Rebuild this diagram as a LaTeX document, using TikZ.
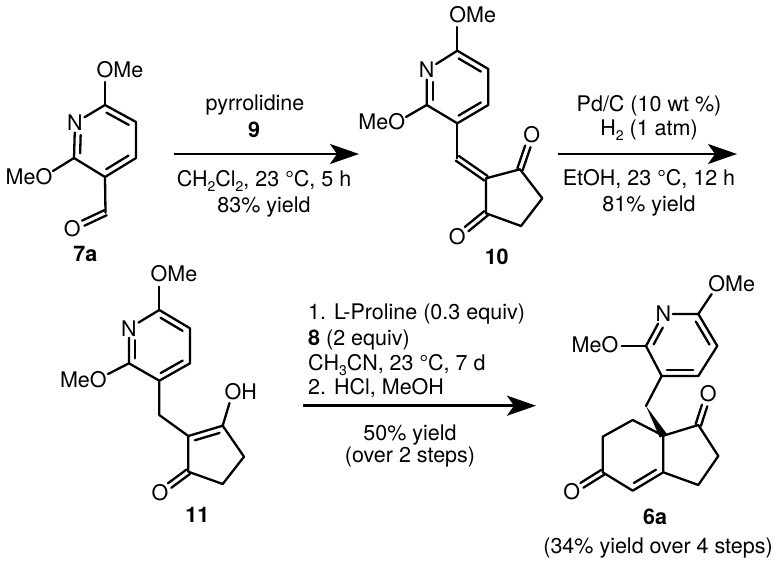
\documentclass[tikz,border=0pt]{standalone}
\usepackage{fontspec}
\setmainfont{TeX Gyre Heros}
\usetikzlibrary{calc,arrows.meta}
\newcommand\sbs[1]{\raisebox{-.24em}{\fontsize{14}{14}\selectfont #1}}
\newcommand\dbi[4][]{\draw[bondl,#1] ($(#2)!.14!(#3)!#4pt!90:(#3)$) -- ($(#2)!.86!(#3)!#4pt!-90:(#2)$);}
\newcommand\dbc[3][]{\draw[bondl,#1] ($(#2)!2.8pt!90:(#3)$) -- ($(#3)!2.8pt!-90:(#2)$);\draw[bondl,#1] ($(#2)!2.8pt!-90:(#3)$) -- ($(#3)!2.8pt!90:(#2)$);}
% pyridine: prefix, N, C2, C3, C4, C5, C6
\newcommand\pyr[7]{%
  \node[atomn] (#1N) at (#2) {N};
  \coordinate (#1c2) at (#3);\coordinate (#1c3) at (#4);\coordinate (#1c4) at (#5);
  \coordinate (#1c5) at (#6);\coordinate (#1c6) at (#7);
  \draw[bondl] (#1N) -- (#1c6) -- (#1c5) -- (#1c4) -- (#1c3) -- (#1c2) -- (#1N);
  \dbi{#1c6}{#1c5}{-6}\dbi{#1c4}{#1c3}{-6}
  \dbi[shorten >=7pt]{#1c2}{#1N}{-6}}
\tikzset{
  bondl/.style={line width=2.3pt,line cap=round,line join=round},
  atomn/.style={inner sep=1.5pt,font=\fontsize{21.5}{24}\selectfont},
  lab/.style={inner sep=0pt,anchor=base,font=\fontsize{21.5}{24}\selectfont},
  cmpd/.style={inner sep=0pt,anchor=base,font=\fontsize{21.5}{24}\selectfont\bfseries},
  rxn/.style={line width=2.5pt,-{Stealth[length=29pt,width=20pt,inset=7pt]}},
}
\begin{document}
\begin{tikzpicture}[x=1pt,y=-1pt]
\useasboundingbox (0,0) rectangle (779,568);
\fill[white] (0,0) rectangle (779,568);
% 7a
\pyr{a}{75,123}{74,158}{105,177}{136,158}{136,122}{105,105}
\node[lab] (aOMe) at (120,77) {OMe};
\node[lab] (aMeO) at (29,184) {MeO};
\coordinate (aOe) at (105,82);\coordinate (aMe) at (53,171);
\draw[bondl] (ac6) -- (aOe);
\draw[bondl] (ac2) -- (aMe);
\coordinate (aC) at (105.5,212.7);
\node[atomn] (aO) at (72.3,228.3) {O};
\draw[bondl] (ac3) -- (aC);
\dbc[shorten >=12pt]{aC}{aO}
\node[cmpd] (l7a) at (85.3,261) {7a};
% 10
\pyr{b}{426.7,70}{426.7,105}{457.3,123.3}{488.3,105}{488.3,69}{457.3,50.7}
\node[lab] (bOMe) at (472.7,22.7) {OMe};
\node[lab] (bMeO) at (381.7,129) {MeO};
\coordinate (bOe) at (457.3,27);\coordinate (bMe) at (406,117);
\draw[bondl] (bc6) -- (bOe);
\draw[bondl] (bc2) -- (bMe);
\coordinate (bCH) at (457.3,158.3);\coordinate (bq) at (486,178.3);
\coordinate (bk1) at (520,169.3);\coordinate (bm1) at (542.3,198.3);
\coordinate (bm2) at (521,226);\coordinate (bk2) at (486,213.3);
\node[atomn] (bO1) at (531.7,135) {O};
\node[atomn] (bO2) at (457.3,236.7) {O};
\draw[bondl] (bc3) -- (bCH);
\dbc{bCH}{bq}
\draw[bondl] (bq) -- (bk1) -- (bm1) -- (bm2) -- (bk2) -- cycle;
\dbc[shorten >=12pt]{bk1}{bO1}
\dbc[shorten >=12pt]{bk2}{bO2}
\node[cmpd] (l10) at (496.7,264) {10};
% 11
\pyr{c}{129,328.3}{129,363.3}{159.3,380.7}{190,363.3}{190,328.3}{159.3,310}
\node[lab] (cOMe) at (174,281.5) {OMe};
\node[lab] (cMeO) at (83.3,387) {MeO};
\coordinate (cOe) at (159.3,286.7);\coordinate (cMe) at (108,374);
\draw[bondl] (cc6) -- (cOe);
\draw[bondl] (cc2) -- (cMe);
\coordinate (cCH) at (159.3,415);\coordinate (cq) at (188.3,436);
\coordinate (cv) at (222.7,425.7);\coordinate (cm1) at (244,456.7);
\coordinate (cm2) at (222.7,484);\coordinate (ck) at (188.3,471.7);
\node[lab] (cOH) at (240.7,399) {OH};
\coordinate (cOe2) at (229.5,403);
\node[atomn] (cO) at (160,492.7) {O};
\draw[bondl] (cc3) -- (cCH) -- (cq);
\draw[bondl] (cq) -- (cv) -- (cm1) -- (cm2) -- (ck) -- cycle;
\dbi{cq}{cv}{-6}
\draw[bondl] (cv) -- (cOe2);
\dbc[shorten >=12pt]{ck}{cO}
\node[cmpd] (l11) at (197.3,522) {11};
% 6a
\pyr{d}{663.3,314}{646,346}{661.7,376}{698.3,376}{717.3,346}{698.3,314}
\node[lab] (dOMe) at (731.7,291.5) {OMe};
\node[lab] (dMeO) at (595,352.5) {MeO};
\coordinate (dOe) at (711.7,294);\coordinate (dMe) at (621.7,346);
\draw[bondl] (dc6) -- (dOe);
\draw[bondl] (dc2) -- (dMe);
\coordinate (dCH) at (646,406);\coordinate (dq) at (663.3,435.7);
\coordinate (dk) at (698.3,425);\coordinate (dm1) at (718.3,456);
\coordinate (dm2) at (698.3,485);\coordinate (dv) at (663.3,472.3);
\coordinate (dw) at (632.7,490.7);\coordinate (dk2) at (602.7,472.3);
\coordinate (dn1) at (602.7,436.7);\coordinate (dn2) at (632.7,420);
\node[atomn] (dO1) at (708.3,394) {O};
\node[atomn] (dO2) at (571.7,491.7) {O};
\draw[bondl] (dc3) -- (dCH);
\fill ($(dq)!4pt!90:(dCH)$) -- ($(dq)!4pt!-90:(dCH)$) -- (dCH) -- cycle;
\draw[bondl] (dq) -- (dk) -- (dm1) -- (dm2) -- (dv) -- (dq) -- (dn2) -- (dn1) -- (dk2) -- (dw) -- (dv);
\dbi{dv}{dw}{-6}
\dbc[shorten >=12pt]{dk}{dO1}
\dbc[shorten >=12pt]{dk2}{dO2}
\node[cmpd] (l6a) at (655,524) {6a};
\node[lab] (tot) at (658,553) {(34\% yield over 4 steps)};
% arrows
\coordinate (r1s) at (174,154);\coordinate (r1e) at (359,154);
\coordinate (r2s) at (558,154);\coordinate (r2e) at (737,154);
\coordinate (r3s) at (303,405.7);\coordinate (r3e) at (536,405.7);
\draw[rxn] (r1s) -- (r1e);
\draw[rxn] (r2s) -- (r2e);
\draw[rxn] (r3s) -- (r3e);
% conditions 1
\node[lab] (t11) at (255,110) {pyrrolidine};
\node[cmpd] (t12) at (254,137) {9};
\node[lab] (t13) at (264,186) {CH\sbs{2}Cl\sbs{2}, 23 °C, 5 h};
\node[lab] (t14) at (264,212) {83\% yield};
% conditions 2
\node[lab] (t21) at (649,111) {Pd/C (10 wt \%)};
\node[lab] (t22) at (649,135) {H\sbs{2} (1 atm)};
\node[lab] (t23) at (649,185) {EtOH, 23 °C, 12 h};
\node[lab] (t24) at (649,211) {81\% yield};
% conditions 3
\node[lab,anchor=base west] (t31) at (308,319) {1. L-Proline (0.3 equiv)};
\node[lab,anchor=base west] (t32) at (308,345) {\textbf{8} (2 equiv)};
\node[lab,anchor=base west] (t33) at (308,370) {CH\sbs{3}CN, 23 °C, 7 d};
\node[lab,anchor=base west] (t34) at (308,394) {2. HCl, MeOH};
\node[lab] (t35) at (410,440) {50\% yield};
\node[lab] (t36) at (410,462.7) {(over 2 steps)};
\end{tikzpicture}
\end{document}
